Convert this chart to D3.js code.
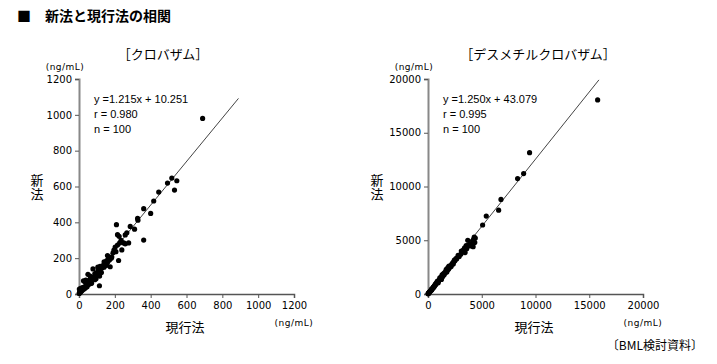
<!DOCTYPE html>
<html>
<head>
<meta charset="utf-8">
<script src="https://cdn.jsdelivr.net/npm/d3@7"></script>
<style>
  body { margin: 0; background: #fff; }
  svg text { font-family: "Noto Sans CJK JP", "DejaVu Sans", sans-serif; fill: #000; }
  .tick text { font-family: "DejaVu Sans", sans-serif; font-size: 10px; }
</style>
</head>
<body>
<div id="chart"></div>
<script>
// Clobazam: current method (x) vs new method (y), ng/mL
const clobazamPoints = [
  [690, 980], [518, 647], [546, 632], [494, 619], [533, 580], [445, 569], [417, 519],
  [361, 476], [400, 450], [327, 422], [329, 412], [310, 362], [286, 377], [361, 301],
  [209, 387], [215, 331], [224, 322], [267, 342], [258, 330], [277, 285], [258, 280],
  [227, 285], [215, 273], [202, 262], [239, 246], [206, 236], [221, 187], [159, 215],
  [183, 206], [174, 152], [155, 186], [114, 46],
  [165, 200], [170, 190], [160, 178], [150, 175], [145, 168], [140, 180], [135, 160],
  [130, 152], [128, 145], [120, 140], [118, 155], [112, 128], [108, 135], [104, 120],
  [100, 110], [96, 118], [92, 100], [88, 112], [84, 95], [80, 92], [78, 140], [75, 84],
  [72, 78], [70, 90], [66, 70], [62, 100], [60, 62], [58, 76], [55, 54], [52, 66],
  [50, 110], [48, 50], [45, 72], [42, 44], [40, 56], [38, 78], [35, 34], [32, 70],
  [30, 40], [28, 28], [25, 74], [22, 30], [20, 22], [18, 36], [15, 18], [12, 25],
  [10, 12], [8, 30], [6, 8], [5, 15], [3, 5], [2, 28], [1, 3], [190, 230], [195, 245],
  [125, 120], [105, 150], [88, 80], [65, 58], [140, 150], [235, 300], [250, 285],
  [180, 200], [155, 160], [115, 100], [95, 85], [70, 60], [45, 40]
];

// Desmethylclobazam
const desmethylPoints = [
  [15780, 18055], [9450, 13150], [8895, 11200], [8335, 10740], [6790, 8800], [6570, 7800],
  [5420, 7250], [5080, 6420], [4300, 5300], [4250, 5100], [4150, 4950], [4050, 4700],
  [4200, 4400], [3935, 4470], [3700, 5000], [3600, 4200], [3400, 4300], [3300, 4100],
  [3200, 3900], [3100, 4000], [2900, 3500], [2700, 3350], [2600, 3300], [2500, 3100],
  [2400, 3000], [2350, 2800], [2200, 2750], [2100, 2600], [2000, 2500], [1950, 2400],
  [1900, 2300], [1800, 2200], [1750, 2050], [1700, 2300], [1600, 1950], [1550, 2000],
  [1500, 1800], [1450, 1900], [1400, 1700], [1350, 1600], [1300, 1750], [1250, 1550],
  [1200, 1450], [1150, 1500], [1100, 1350], [1050, 1300], [1000, 1250], [950, 1200],
  [900, 1100], [850, 1150], [800, 1000], [750, 950], [700, 900], [650, 850], [600, 750],
  [550, 700], [500, 650], [450, 550], [400, 500], [350, 450], [300, 400], [250, 300],
  [200, 250], [150, 200], [100, 150], [50, 80], [20, 40], [3800, 4600], [3550, 4500],
  [2800, 3600], [2300, 2900], [1850, 2450], [1650, 2100], [1350, 1800], [1100, 1500],
  [900, 1200], [700, 850], [500, 600], [300, 350], [150, 180], [4400, 5200], [4350, 4800],
  [3450, 3850], [3050, 3700], [2650, 3250], [2450, 3150], [2150, 2550], [1950, 2600],
  [1250, 1350], [950, 1050], [750, 1000], [550, 650], [350, 400], [80, 100], [10, 20]
];

const clobazamTicks = [0, 200, 400, 600, 800, 1000, 1200];
const desmethylTicks = [0, 5000, 10000, 15000, 20000];

// regression: slope, intercept, x range of drawn line
const clobazamFit = { slope: 1.215, intercept: 10.251, xMax: 890 };
const desmethylFit = { slope: 1.250, intercept: 43.079, xMax: 15900 };

const clobazamStats = ['y =1.215x + 10.251', 'r = 0.980', 'n = 100'];
const desmethylStats = ['y =1.250x + 43.079', 'r = 0.995', 'n = 100'];

const svg = d3.select('#chart')
  .append('svg')
  .attr('width', 717)
  .attr('height', 364);

// page heading
svg.append('text')
  .attr('x', 17)
  .attr('y', 21)
  .style('font-size', '14px')
  .style('font-weight', 'bold')
  .text('■');

svg.append('text')
  .attr('x', 45)
  .attr('y', 21)
  .style('font-size', '14px')
  .style('font-weight', 'bold')
  .text('新法と現行法の相関');

function drawPanel(opts) {
  const size = 215;
  const g = svg.append('g')
    .attr('transform', `translate(${opts.left},79)`);

  const max = opts.ticks[opts.ticks.length - 1];
  const x = d3.scaleLinear().domain([0, max]).range([0, size]);
  const y = d3.scaleLinear().domain([0, max]).range([size, 0]);

  // axes
  const yAxis = g.append('g')
    .call(d3.axisLeft(y).tickValues(opts.ticks).tickFormat(d3.format('d')).tickSize(4).tickPadding(3));
  yAxis.select('.domain').attr('stroke', '#888').attr('stroke-width', 2);
  yAxis.selectAll('.tick line').attr('stroke', '#555');

  const xAxis = g.append('g')
    .attr('transform', `translate(0,${size})`)
    .call(d3.axisBottom(x).tickValues(opts.ticks).tickFormat(d3.format('d')).tickSize(4).tickPadding(4));
  xAxis.select('.domain').attr('stroke', '#555').attr('stroke-width', 1.5);
  xAxis.selectAll('.tick line').attr('stroke', '#555');

  // regression line
  g.append('line')
    .attr('x1', x(0))
    .attr('y1', y(opts.fit.intercept))
    .attr('x2', x(opts.fit.xMax))
    .attr('y2', y(opts.fit.slope * opts.fit.xMax + opts.fit.intercept))
    .attr('stroke', '#444')
    .attr('stroke-width', 1);

  // points
  g.selectAll('.dot')
    .data(opts.points)
    .enter()
    .append('circle')
    .attr('cx', d => x(d[0]))
    .attr('cy', d => y(d[1]))
    .attr('r', 2.6)
    .attr('fill', '#000');

  // stats text
  g.selectAll('.stat')
    .data(opts.stats)
    .enter()
    .append('text')
    .attr('x', 15)
    .attr('y', (d, i) => 24 + i * 15)
    .style('font-family', '"Liberation Sans", sans-serif')
    .style('font-size', '11px')
    .text(d => d);

  // title
  g.append('text')
    .attr('x', opts.titleX)
    .attr('y', -20)
    .style('text-anchor', 'middle')
    .style('font-size', '13px')
    .text(opts.title);

  // units
  g.append('text')
    .attr('x', -14)
    .attr('y', -9)
    .style('text-anchor', 'middle')
    .style('font-family', '"DejaVu Sans", sans-serif')
    .style('font-size', '9px')
    .style('letter-spacing', '0.5px')
    .text('(ng/mL)');

  g.append('text')
    .attr('x', size)
    .attr('y', size + 32)
    .style('text-anchor', 'middle')
    .style('font-family', '"DejaVu Sans", sans-serif')
    .style('font-size', '9px')
    .style('letter-spacing', '0.5px')
    .text('(ng/mL)');

  // axis labels
  g.append('text')
    .attr('x', 106)
    .attr('y', size + 38)
    .style('text-anchor', 'middle')
    .style('font-size', '13px')
    .text('現行法');

  // vertical y label, one text element
  g.append('text')
    .attr('x', opts.yLabelX)
    .attr('y', 109)
    .style('writing-mode', 'vertical-rl')
    .style('text-anchor', 'middle')
    .style('font-size', '13px')
    .style('letter-spacing', '1px')
    .text('新法');
}

drawPanel({
  left: 79,
  ticks: clobazamTicks,
  points: clobazamPoints,
  fit: clobazamFit,
  stats: clobazamStats,
  title: '［クロバザム］',
  titleX: 84,
  yLabelX: -42
});

drawPanel({
  left: 428,
  ticks: desmethylTicks,
  points: desmethylPoints,
  fit: desmethylFit,
  stats: desmethylStats,
  title: '［デスメチルクロバザム］',
  titleX: 110,
  yLabelX: -51
});

svg.append('text')
  .attr('x', 703)
  .attr('y', 350)
  .style('text-anchor', 'end')
  .style('font-size', '12px')
  .text('〔BML検討資料〕');
</script>
</body>
</html>
